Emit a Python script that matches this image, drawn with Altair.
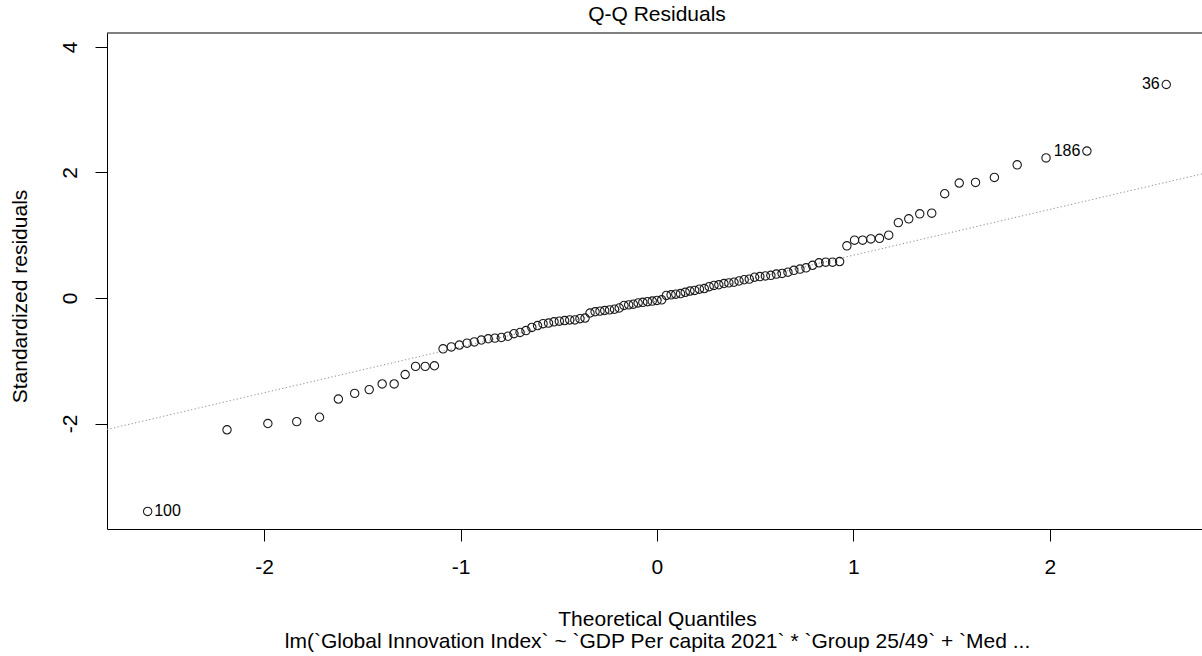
import altair as alt
import pandas as pd

# Normal theoretical quantiles (sorted) for the 105 residuals
theoretical = [
    -2.593, -2.189, -1.981, -1.834, -1.718, -1.622, -1.539, -1.465, -1.399, -1.338,
    -1.282, -1.229, -1.180, -1.133, -1.089, -1.047, -1.006, -0.967, -0.930, -0.894,
    -0.859, -0.825, -0.792, -0.759, -0.728, -0.697, -0.667, -0.637, -0.608, -0.580,
    -0.552, -0.524, -0.497, -0.470, -0.444, -0.418, -0.392, -0.366, -0.341, -0.315,
    -0.290, -0.266, -0.241, -0.216, -0.192, -0.168, -0.144, -0.120, -0.096, -0.072,
    -0.048, -0.024, 0.000, 0.024, 0.048, 0.072, 0.096, 0.120, 0.144, 0.168,
    0.192, 0.216, 0.241, 0.266, 0.290, 0.315, 0.341, 0.366, 0.392, 0.418,
    0.444, 0.470, 0.497, 0.524, 0.552, 0.580, 0.608, 0.637, 0.667, 0.697,
    0.728, 0.759, 0.792, 0.825, 0.859, 0.894, 0.930, 0.967, 1.006, 1.047,
    1.089, 1.133, 1.180, 1.229, 1.282, 1.338, 1.399, 1.465, 1.539, 1.622,
    1.718, 1.834, 1.981, 2.189, 2.593,
]

# Sorted standardized residuals
std_resid = [
    -3.40, -2.10, -2.00, -1.97, -1.90, -1.61, -1.52, -1.46, -1.37, -1.37,
    -1.22, -1.09, -1.09, -1.08, -0.81, -0.78, -0.75, -0.72, -0.70, -0.67,
    -0.65, -0.64, -0.63, -0.61, -0.57, -0.55, -0.52, -0.47, -0.44, -0.41,
    -0.40, -0.38, -0.37, -0.36, -0.35, -0.35, -0.33, -0.32, -0.24, -0.22,
    -0.21, -0.20, -0.19, -0.18, -0.16, -0.12, -0.11, -0.10, -0.08, -0.07,
    -0.06, -0.05, -0.04, -0.03, 0.04, 0.05, 0.06, 0.07, 0.09, 0.11,
    0.12, 0.14, 0.15, 0.18, 0.20, 0.21, 0.23, 0.24, 0.25, 0.27,
    0.29, 0.30, 0.33, 0.34, 0.35, 0.36, 0.38, 0.39, 0.41, 0.44,
    0.46, 0.48, 0.52, 0.56, 0.57, 0.57, 0.58, 0.83, 0.92, 0.92,
    0.94, 0.95, 1.00, 1.20, 1.26, 1.34, 1.35, 1.66, 1.83, 1.84,
    1.92, 2.12, 2.23, 2.34, 3.40,
]

# Observations flagged with their row names (position in the sorted order)
flag_names = ["100", "186", "36"]
flag_rank = [1, 104, 105]
flag_side = ["right", "left", "left"]

# Reference line through the quartiles
qq_intercept = -0.05
qq_slope = 0.73

x_domain = [-2.80, 2.775]
y_domain = [-3.68, 4.22]
x_ticks = [-2, -1, 0, 1, 2]
y_ticks = [-2, 0, 2, 4]

x_title = "Theoretical Quantiles"
sub_title = "lm(`Global Innovation Index` ~ `GDP Per capita 2021` * `Group 25/49` + `Med ..."
y_title = "Standardized residuals"
main_title = "Q-Q Residuals"

W, H = 1095, 496
FONT = "Liberation Sans"
FS = 21

pts = pd.DataFrame({"q": theoretical, "r": std_resid})
flags = pd.DataFrame({
    "q": [theoretical[i - 1] for i in flag_rank],
    "r": [std_resid[i - 1] for i in flag_rank],
    "t": flag_names,
    "side": flag_side,
})
ref = pd.DataFrame({"q": x_domain, "r": [qq_intercept + qq_slope * v for v in x_domain]})

x_enc = alt.X(
    "q:Q",
    scale=alt.Scale(domain=x_domain, nice=False, zero=False),
    axis=alt.Axis(
        values=x_ticks, grid=False, tickSize=12, tickColor="black", domainColor="black",
        labelFont=FONT, labelFontSize=FS, labelColor="black", labelPadding=26,
        labelBaseline="middle", labelExpr="'' + datum.value",
        title=[x_title, sub_title], titleFont=FONT, titleFontSize=FS,
        titleFontWeight="normal", titleColor="black", titleLineHeight=22,
        titleBaseline="alphabetic", titleY=96, titleX=W / 2 + 2.5, titleAlign="center",
    ),
)
y_enc = alt.Y(
    "r:Q",
    scale=alt.Scale(domain=y_domain, nice=False, zero=False),
    axis=alt.Axis(
        values=y_ticks, grid=False, tickSize=12, tickColor="black", domainColor="black",
        labelFont=FONT, labelFontSize=FS, labelColor="black", labelPadding=25,
        labelAngle=270, labelAlign="center", labelBaseline="middle",
        labelExpr="'' + datum.value",
        title=y_title, titleFont=FONT, titleFontSize=FS, titleFontWeight="normal",
        titleColor="black", titleAngle=270, titleAlign="center", titleBaseline="middle",
        titleX=-87, titleY=H / 2 + 15,
    ),
)

points = alt.Chart(pts).mark_point(
    shape="circle", filled=False, size=70, strokeWidth=1.1, color="#1a1a1a", opacity=1
).encode(x=x_enc, y=y_enc)

line = alt.Chart(ref).mark_line(
    color="#8c8c8c", strokeWidth=1, strokeDash=[1.2, 2.4], clip=True
).encode(x=x_enc, y=y_enc)

labels_right = alt.Chart(flags).transform_filter("datum.side == 'right'").mark_text(
    align="left", baseline="middle", dx=6.5, font=FONT, fontSize=16, color="black"
).encode(x=x_enc, y=y_enc, text="t:N")

labels_left = alt.Chart(flags).transform_filter("datum.side == 'left'").mark_text(
    align="right", baseline="middle", dx=-6.5, font=FONT, fontSize=16, color="black"
).encode(x=x_enc, y=y_enc, text="t:N")

top_border = alt.Chart(pd.DataFrame({"k": [0]})).mark_rule(
    color="black", strokeWidth=1
).encode(x=alt.value(0), x2=alt.value(W), y=alt.value(0))

chart = alt.layer(line, points, labels_right, labels_left, top_border).properties(
    width=W,
    height=H,
    title=alt.TitleParams(
        main_title, font=FONT, fontSize=FS, fontWeight="normal", color="black",
        anchor="middle", baseline="alphabetic", offset=11, dx=2.5, dy=20,
    ),
    padding={"left": 107, "top": 33, "right": 0, "bottom": 127},
    autosize=alt.AutoSizeParams(type="none"),
    background="white",
).configure_view(stroke=None)

chart.save("out.html", embed_options={"renderer": "svg", "actions": False})
